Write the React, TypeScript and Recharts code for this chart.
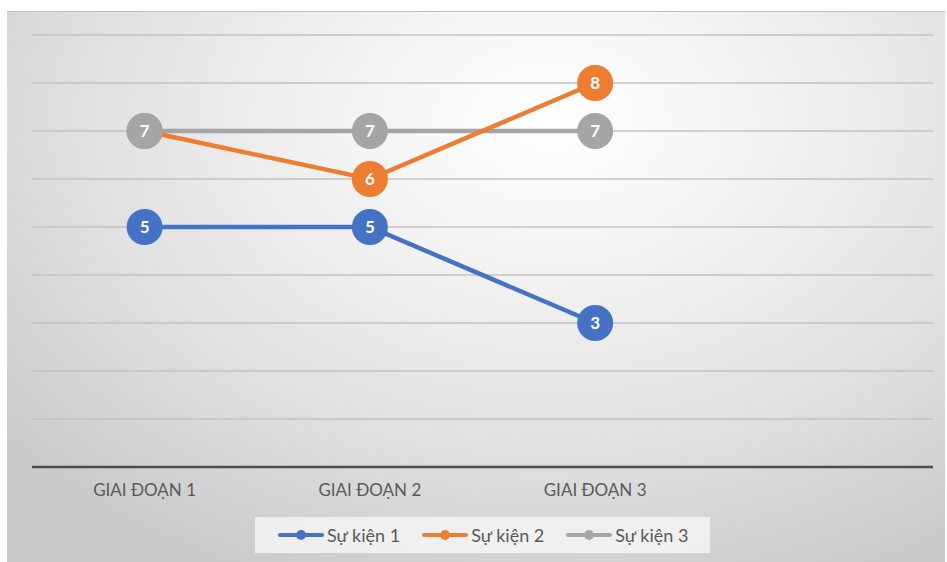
import React from 'react';
import { LineChart, Line, XAxis, YAxis, CartesianGrid, Legend } from 'recharts';

// Stages (the 4th slot is empty in the source workbook)
const categories = ['GIAI ĐOẠN 1', 'GIAI ĐOẠN 2', 'GIAI ĐOẠN 3', ''];
const suKien1 = [5, 5, 3, null];
const suKien2 = [7, 6, 8, null];
const suKien3 = [7, 7, 7, null];
const yTicks = [0, 1, 2, 3, 4, 5, 6, 7, 8, 9];

const SERIES = [
  { key: 's1', name: 'Sự kiện 1', color: '#4472C4' },
  { key: 's2', name: 'Sự kiện 2', color: '#ED7D31' },
  { key: 's3', name: 'Sự kiện 3', color: '#A5A5A5' },
];

const FONT = 'Lato, "Open Sans", sans-serif';

const data = categories.map((name, i) => ({
  name,
  s1: suKien1[i],
  s2: suKien2[i],
  s3: suKien3[i],
}));

// circle marker with the value written inside
const makeDot = (color: string) => (props: any) => {
  const { cx, cy, value, index } = props;
  if (cx == null || cy == null || value == null) return <g key={`none-${index}`} />;
  return (
    <g key={`dot-${color}-${index}`}>
      <circle cx={cx} cy={cy} r={18} fill={color} />
      <text
        x={cx}
        y={cy}
        dy="0.36em"
        textAnchor="middle"
        fill="#ffffff"
        fontSize={17}
        fontWeight={700}
        fontFamily={FONT}
      >
        {value}
      </text>
    </g>
  );
};

const renderLegend = () => (
  <div
    style={{
      display: 'flex',
      alignItems: 'center',
      height: 36,
      width: 455,
      paddingLeft: 23,
      boxSizing: 'border-box',
      background: 'rgba(244,244,244,0.85)',
      whiteSpace: 'nowrap',
    }}
  >
    {SERIES.map((s) => (
      <div key={s.key} style={{ display: 'flex', alignItems: 'center', marginRight: 22, flexShrink: 0 }}>
        <svg width={46} height={12} style={{ flexShrink: 0 }}>
          <line x1={2} y1={6} x2={44} y2={6} stroke={s.color} strokeWidth={4} strokeLinecap="round" />
          <circle cx={23} cy={6} r={5} fill={s.color} />
        </svg>
        <span style={{ fontSize: 18, color: '#595959', fontFamily: FONT, marginLeft: 3, whiteSpace: 'nowrap' }}>
          {s.name}
        </span>
      </div>
    ))}
  </div>
);

export default function App() {
  return (
    <div
      style={{
        position: 'absolute',
        left: 7,
        top: 11,
        width: 938,
        height: 551,
        background:
          'radial-gradient(ellipse 75% 90% at 58% 20%, #ffffff 0%, #f3f3f3 30%, #e1e1e1 65%, #cbcbcb 100%)',
        boxShadow: 'inset 0 1px 0 #bdbdbd',
      }}
    >
      <LineChart width={938} height={551} data={data} margin={{ top: 24, right: 12, left: 25, bottom: 65 }}>
        <CartesianGrid vertical={false} stroke="#c2c2c2" strokeWidth={1.5} />
        <XAxis
          dataKey="name"
          height={30}
          padding={{ left: 112.6, right: 112.6 }}
          axisLine={{ stroke: '#4d4d4d', strokeWidth: 2.5 }}
          tickLine={false}
          tickSize={0}
          tickMargin={17}
          tick={{ fill: '#595959', fontSize: 17, fontFamily: FONT }}
          interval={0}
        />
        <YAxis hide domain={[0, 9]} ticks={yTicks} />
        <Legend
          content={renderLegend}
          layout="horizontal"
          verticalAlign="middle"
          align="center"
          wrapperStyle={{ left: 248, top: 506, width: 455, height: 36 }}
        />
        {/* lines first, gray at the back */}
        {[...SERIES].reverse().map((s) => (
          <Line
            key={`line-${s.key}`}
            type="linear"
            dataKey={s.key}
            name={s.name}
            stroke={s.color}
            strokeWidth={4.5}
            dot={false}
            activeDot={false}
            isAnimationActive={false}
          />
        ))}
        {/* then the labelled markers on top */}
        {SERIES.map((s) => (
          <Line
            key={`dots-${s.key}`}
            type="linear"
            dataKey={s.key}
            stroke="none"
            legendType="none"
            dot={makeDot(s.color)}
            activeDot={false}
            isAnimationActive={false}
          />
        ))}
      </LineChart>
    </div>
  );
}
